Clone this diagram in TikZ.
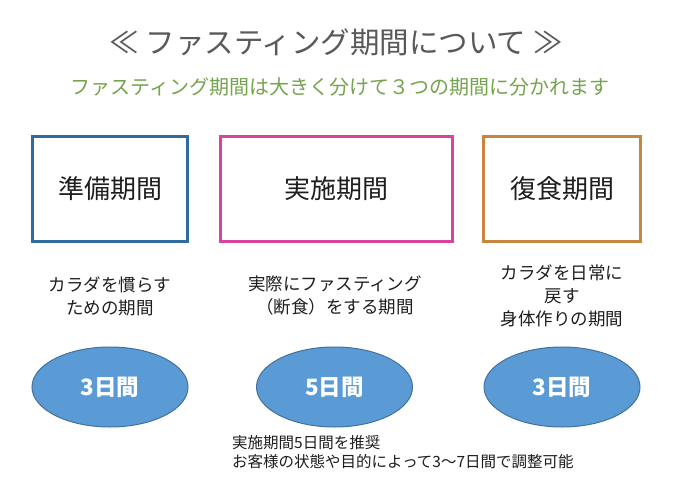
\documentclass[tikz,border=0pt]{standalone}
\usepackage{fontspec}
\setmainfont{Noto Sans CJK JP}
\usetikzlibrary{shapes.geometric}
\definecolor{titlegray}{HTML}{595959}
\definecolor{subgreen}{HTML}{76A34E}
\definecolor{prepblue}{HTML}{2E6B9E}
\definecolor{dopink}{HTML}{D9439F}
\definecolor{backorange}{HTML}{C9843E}
\definecolor{ovalfill}{HTML}{5B9BD5}
\definecolor{ovalline}{HTML}{41719C}
\definecolor{inkblack}{HTML}{1E1E1E}
\tikzset{
	periodbox/.style={draw, line width=2.4pt, minimum height=105pt, inner sep=0pt, text=inkblack, font=\fontsize{26}{30}\selectfont},
	daysoval/.style={ellipse, draw=ovalline, fill=ovalfill, line width=1pt, minimum width=156pt, minimum height=80pt, inner sep=0pt, text=white, font=\fontsize{22.5}{26}\selectfont\bfseries},
	notetext/.style={align=center, text=inkblack, font=\fontsize{17.5}{23}\selectfont},
}

\begin{document}
\begin{tikzpicture}[x=1pt, y=-1pt]
		%%%%% START %%%%%
		
		\useasboundingbox[fill=white] (0, 0) rectangle (682, 484);
		
		\node[text=titlegray, font=\fontsize{29.5}{34}\selectfont] (title) at (336, 42) {≪ ファスティング期間について ≫};
		\node[text=subgreen, font=\fontsize{20}{24}\selectfont] (subtitle) at (340, 87) {ファスティング期間は大きく分けて３つの期間に分かれます};
		
		\node[periodbox, draw=prepblue, minimum width=155pt] (prepbox) at (110, 189) {準備期間};
		\node[periodbox, draw=dopink, minimum width=232pt] (dobox) at (336.5, 189) {実施期間};
		\node[periodbox, draw=backorange, minimum width=157pt] (backbox) at (562, 189) {復食期間};
		
		\node[notetext] (prepnote) at (110, 296) {カラダを慣らす\\ための期間};
		\node[notetext] (donote) at (335, 295) {実際にファスティング\\（断食）をする期間};
		\node[notetext] (backnote) at (562, 296) {カラダを日常に\\戻す\\身体作りの期間};
		
		\node[daysoval] (prepdays) at (110, 387) {3日間};
		\node[daysoval] (dodays) at (334.5, 387) {5日間};
		\node[daysoval] (backdays) at (562, 387) {3日間};
		
		\node[anchor=west, align=left, inner sep=0pt, text=inkblack, font=\fontsize{15.5}{19}\selectfont] (advice) at (232, 452.5) {実施期間5日間を推奨\\お客様の状態や目的によって3～7日間で調整可能};
		
		%%%%% END %%%%%
	\end{tikzpicture}
\end{document}
